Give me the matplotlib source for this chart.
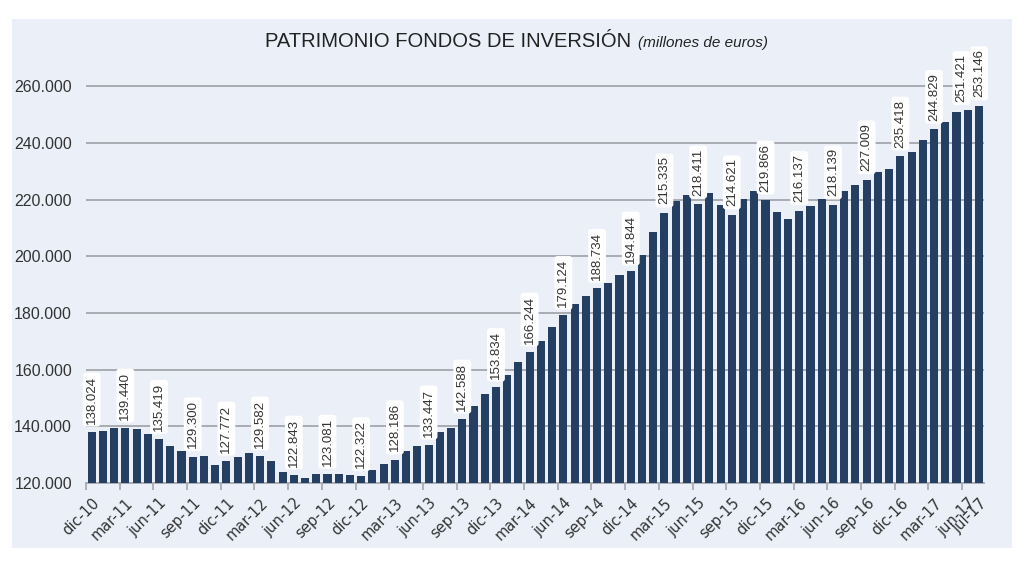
import matplotlib
matplotlib.use("Agg")
import matplotlib.pyplot as plt
from matplotlib.patches import Rectangle

# monthly fund assets, millions of euros, dic-10 .. jul-17
month_abbr = ["ene", "feb", "mar", "abr", "may", "jun", "jul", "ago", "sep", "oct", "nov", "dic"]
months = ["dic-10"] + [f"{m}-{y}" for y in range(11, 18) for m in month_abbr][:79]

patrimonio = [
    138024, 138400, 139400, 139440, 139000, 137300, 135419, 133200, 131400, 129300,
    129500, 126500, 127772, 129300, 130700, 129582, 127600, 123800, 122843, 121800,
    123000, 123081, 123000, 122700, 122322, 124600, 126700, 128186, 131400, 133000,
    133447, 138100, 139300, 142588, 147300, 151300, 153834, 158100, 162700, 166244,
    170200, 175000, 179124, 183200, 186100, 188734, 190600, 193400, 194844, 200500,
    208500, 215335, 219500, 221700, 218411, 222200, 218000, 214621, 220300, 222900,
    219866, 215600, 213100, 216137, 217700, 220100, 218139, 223100, 225200, 227009,
    229700, 230900, 235418, 236600, 240900, 244829, 247400, 250800, 251421, 253146,
]

# bars that carry a value label and a date label
labeled_months = ["dic-10", "mar-11", "jun-11", "sep-11", "dic-11", "mar-12", "jun-12",
                  "sep-12", "dic-12", "mar-13", "jun-13", "sep-13", "dic-13", "mar-14",
                  "jun-14", "sep-14", "dic-14", "mar-15", "jun-15", "sep-15", "dic-15",
                  "mar-16", "jun-16", "sep-16", "dic-16", "mar-17", "jun-17", "jul-17"]
yticks = [120000, 140000, 160000, 180000, 200000, 220000, 240000, 260000]

bar_color = '#253f62'
grid_color = '#a3a6ad'
panel_color = '#ebf0f8'
text_color = '#333333'
sans = ['Liberation Sans', 'DejaVu Sans']


def miles(v):
    return f"{v:,}".replace(",", ".")


fig = plt.figure(figsize=(10.24, 5.62), dpi=100)
fig.patch.set_facecolor('white')
fig.patches.append(Rectangle((12 / 1024, 1 - 548 / 562), 1000 / 1024, 529 / 562,
                             transform=fig.transFigure, facecolor=panel_color,
                             edgecolor='none', zorder=-10))

ax = fig.add_axes([86 / 1024, 1 - 483 / 562, 898 / 1024, 411 / 562])
ax.set_facecolor('none')

x = list(range(len(patrimonio)))
ax.bar(x, patrimonio, width=0.72, color=bar_color, zorder=3)

ax.set_xlim(-0.45, len(patrimonio) - 0.55)
ax.set_ylim(120000, 265000)

# grid + axes
ax.set_yticks(yticks)
ax.set_yticklabels([miles(v) for v in yticks], family=sans, fontsize=11.5, color=text_color)
ax.tick_params(axis='y', length=0, pad=10)
for v in yticks[1:]:
    ax.axhline(v, color=grid_color, lw=1.3, zorder=1)
for s in ['top', 'right', 'left']:
    ax.spines[s].set_visible(False)
ax.spines['bottom'].set_color(grid_color)
ax.spines['bottom'].set_linewidth(1.3)

lab_idx = [months.index(m) for m in labeled_months]
ax.set_xticks(lab_idx)
ax.set_xticklabels(labeled_months, rotation=45, ha='right', rotation_mode='anchor',
                   fontsize=10.5, color=text_color, family='DejaVu Sans')
ax.tick_params(axis='x', length=0, pad=9)
ax.set_xticks([i - 0.5 for i in lab_idx[:-1]], minor=True)
ax.tick_params(axis='x', which='minor', length=5, width=1.2, color=grid_color)

# value labels (the jun-17 one is nudged left so it clears jul-17)
for i in lab_idx:
    dx = -4.5 if months[i] == "jun-17" else 0
    ax.annotate(miles(patrimonio[i]), (i, patrimonio[i]), xytext=(dx, 6),
                textcoords='offset points', rotation=90, ha='center', va='bottom',
                fontsize=9.5, color=text_color, family=sans,
                bbox=dict(boxstyle='round,pad=0.22', facecolor='white', edgecolor='none'),
                zorder=5, annotation_clip=False)

# title
t1 = fig.text(265 / 1024, 1 - 47 / 562, "PATRIMONIO FONDOS DE INVERSIÓN",
              family=sans, fontsize=14.5, color='#222222', ha='left', va='baseline')
fig.canvas.draw()
bb = t1.get_window_extent()
fig.text((bb.x1 + 7) / 1024, 1 - 47 / 562, "(millones de euros)", family=sans,
         style='italic', fontsize=11, color='#222222', ha='left', va='baseline')

fig.savefig("out.png", dpi=100)
